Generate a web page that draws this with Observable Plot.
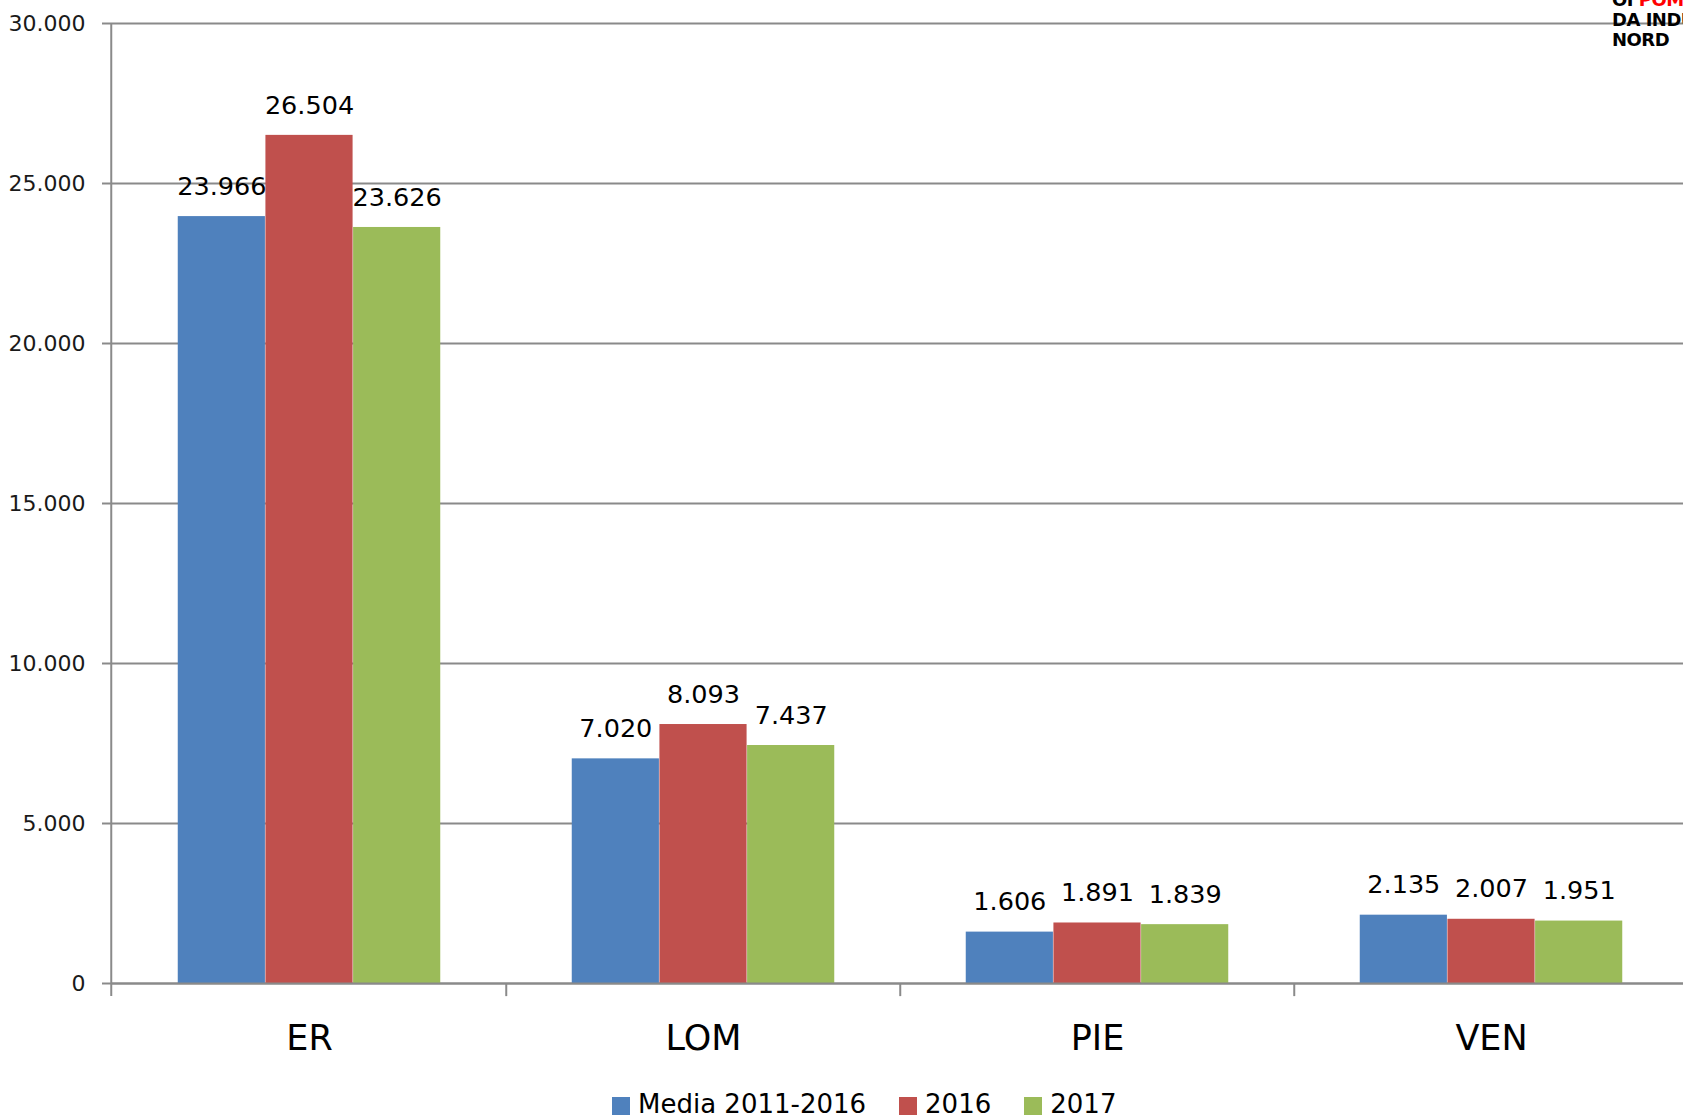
<!DOCTYPE html>
<html>
<head>
<meta charset="utf-8">
<script src="https://cdn.jsdelivr.net/npm/d3@7"></script>
<script src="https://cdn.jsdelivr.net/npm/@observablehq/plot@0.6"></script>
<style>
  html, body { margin: 0; padding: 0; background: #fff; overflow: hidden; }
  #wrap { position: relative; width: 1683px; height: 1119px; overflow: hidden; font-family: "DejaVu Sans", sans-serif; }
  #chart { position: absolute; left: 0; top: 0; }
  #legend { position: absolute; left: 612px; top: 1091px; height: 26px; line-height: 26px; display: flex; align-items: center; font-size: 26px; color: #000; white-space: nowrap; }
  #legend .item { display: flex; align-items: center; margin-right: 33px; height: 26px; }
  #legend .sw { width: 18px; height: 18px; margin-right: 8px; margin-top: 3px; }
  #logo { position: absolute; left: 1612px; top: -10px; font-family: "DejaVu Sans", sans-serif; font-weight: bold; font-size: 18px; line-height: 20px; letter-spacing: -0.5px; color: #000; white-space: nowrap; }
  #logo .red { color: #ff0000; }
</style>
</head>
<body>
<div id="wrap">
  <div id="chart"></div>
  <div id="legend"></div>
  <div id="logo"><div>OI <span class="red">POMODORO</span></div><div>DA INDUSTRIA</div><div>NORD</div></div>
</div>
<script>
const categories = ["ER", "LOM", "PIE", "VEN"];
const seriesNames = ["Media 2011-2016", "2016", "2017"];
const media20112016 = [23966, 7020, 1606, 2135];
const values2016 = [26504, 8093, 1891, 2007];
const values2017 = [23626, 7437, 1839, 1951];
const yTicks = [0, 5000, 10000, 15000, 20000, 25000, 30000];
const colors = ["#4F81BD", "#C0504D", "#9BBB59"];

const seriesValues = [media20112016, values2016, values2017];
const rows = [];
seriesValues.forEach((vals, i) => {
  vals.forEach((v, j) => rows.push({ series: seriesNames[i], si: i, cat: categories[j], value: v }));
});

const locale = d3.formatLocale({ decimal: ",", thousands: ".", grouping: [3], currency: ["€", ""] });
const fmt = locale.format(",d");

const W = 1683, H = 1080;
const band = 394.5;
const gap = band / 6;          // Excel gap width 150%
const barW = (band - 2 * gap) / 3;
const grid = "#8a8a8a";

const marks = [
  Plot.ruleY(yTicks, { stroke: grid, strokeWidth: 2 })
];
seriesNames.forEach((s, i) => {
  marks.push(Plot.barY(rows.filter(d => d.si === i), {
    x: "cat", y: "value", fill: colors[i],
    insetLeft: gap + barW * i,
    insetRight: band - gap - barW * (i + 1)
  }));
});
marks.push(Plot.ruleY([0], { stroke: grid, strokeWidth: 2 }));
// y axis line and category boundary ticks
marks.push(Plot.ruleX(categories.slice(0, 1), { x: d => d, dx: -band / 2 - 1, y1: -410, y2: 30000, stroke: grid, strokeWidth: 2 }));
marks.push(Plot.ruleX(categories.slice(1), { x: d => d, dx: -band / 2, y1: -410, y2: 0, stroke: grid, strokeWidth: 2 }));
seriesNames.forEach((s, i) => {
  marks.push(Plot.text(rows.filter(d => d.si === i), {
    x: "cat", y: "value", text: d => fmt(d.value),
    dx: (i - 1) * barW, dy: -30, fontSize: 25.5, fill: "#000"
  }));
});
marks.push(Plot.axisY(yTicks, { tickFormat: fmt, tickSize: 9, tickPadding: 17, fontSize: 22, stroke: grid, strokeWidth: 2, fill: "#1a1a1a" }));
marks.push(Plot.axisX({ tickSize: 0, tickPadding: 42, fontSize: 35, fill: "#000" }));

const chart = Plot.plot({
  width: W,
  height: H,
  marginLeft: 111,
  marginRight: 0,
  marginTop: 23,
  marginBottom: 97,
  style: { fontFamily: "DejaVu Sans, sans-serif", background: "white", overflow: "visible" },
  x: { type: "band", domain: categories, range: [111, 111 + band * 4], padding: 0, label: null },
  y: { domain: [0, 30000], range: [983, 23], label: null },
  marks
});
document.getElementById("chart").appendChild(chart);

const legend = document.getElementById("legend");
seriesNames.forEach((s, i) => {
  const item = document.createElement("div");
  item.className = "item";
  const sw = document.createElement("div");
  sw.className = "sw";
  sw.style.background = colors[i];
  const t = document.createElement("span");
  t.textContent = s;
  item.appendChild(sw);
  item.appendChild(t);
  legend.appendChild(item);
});
</script>
</body>
</html>
